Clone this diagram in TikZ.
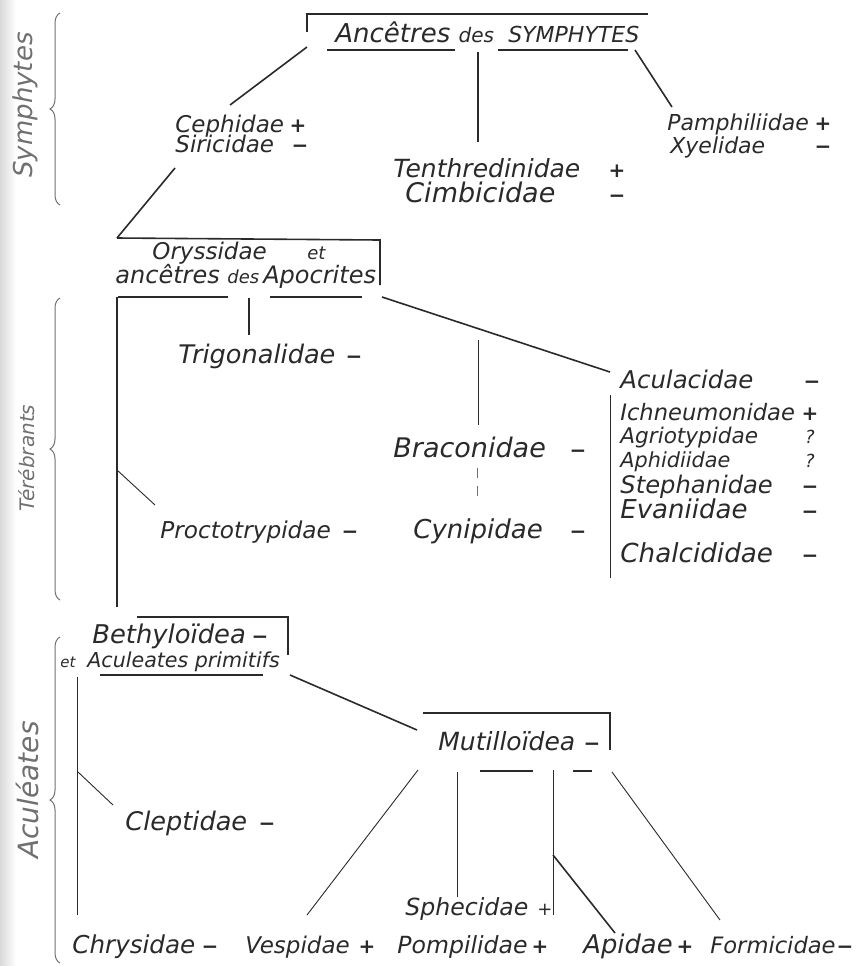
\documentclass[tikz,border=0pt]{standalone}
\usepackage{fontspec}
\setsansfont{DejaVu Sans}
\usetikzlibrary{decorations.pathreplacing}

\definecolor{ink}{HTML}{2A2A2A}
\definecolor{pencil}{HTML}{707070}
\newcommand{\minussign}{\char"2212}

\begin{document}
\begin{tikzpicture}[x=0.5pt,y=-0.5pt,
    fam/.style={font=\sffamily\itshape\fontsize{#1}{#1}\selectfont,anchor=base west,inner sep=0pt,text=ink},
    fam/.default=12,
    sgn/.style={font=\sffamily\bfseries\fontsize{10}{10}\selectfont,anchor=base,inner sep=0pt,text=ink},
    branch/.style={draw=ink,line width=0.8pt},
    twig/.style={draw=ink,line width=0.45pt},
    group/.style={font=\sffamily\itshape\fontsize{#1}{#1}\selectfont,rotate=90,text=pencil,inner sep=0pt},
    bracket/.style={draw=pencil,line width=0.5pt,decorate,decoration={brace,amplitude=5pt}}]

  \useasboundingbox (0,0) rectangle (862,966);
  \fill[left color=black!15,right color=white] (0,0) rectangle (16,966);

  % groups on the left
  \draw[bracket] (60,205) -- (60,13);
  \draw[bracket] (60,600) -- (60,298);
  \draw[bracket] (60,963) -- (60,637);
  \node[group=13] (symph) at (25,105) {Symphytes};
  \node[group=10] (tereb) at (27,458) {Térébrants};
  \node[group=14] (acul) at (28,790) {Aculéates};

  % Symphytes
  \node[fam=13] (anc) at (335,42) {Ancêtres {\fontsize{10}{10}\selectfont des}\hspace{3pt} {\fontsize{11}{11}\selectfont SYMPHYTES}};
  \draw[branch] (307,32) -- (307,14) -- (648,14);
  \draw[branch] (327,50) -- (455,50) (498,50) -- (628,50);

  \node[fam=11.5] (ceph) at (175,132) {Cephidae};
  \node[sgn] (ceph-s) at (298,132) {+};
  \node[fam=11.5] (siri) at (175,152) {Siricidae};
  \node[sgn] (siri-s) at (300,152) {\minussign};
  \node[fam=12.5] (tenth) at (393,177) {Tenthredinidae};
  \node[sgn] (tenth-s) at (617,177) {+};
  \node[fam=13.5] (cimb) at (405,202) {Cimbicidae};
  \node[sgn] (cimb-s) at (617,202) {\minussign};
  \node[fam=11] (pamph) at (667,130) {Pamphiliidae};
  \node[sgn] (pamph-s) at (823,130) {+};
  \node[fam=11] (xyel) at (670,153) {Xyelidae};
  \node[sgn] (xyel-s) at (823,153) {\minussign};

  \coordinate (anc-l) at (307,47);  \coordinate (ceph-t) at (230,105);
  \coordinate (anc-m) at (478,52);  \coordinate (tenth-t) at (478,142);
  \coordinate (anc-r) at (635,50);  \coordinate (pamph-t) at (672,107);
  \coordinate (siri-b) at (175,168); \coordinate (oryss-t) at (117,238);
  \draw[branch] (anc-l) -- (ceph-t);
  \draw[branch] (anc-m) -- (tenth-t);
  \draw[branch] (anc-r) -- (pamph-t);
  \draw[branch] (siri-b) -- (oryss-t);

  % Terebrants
  \node[fam=11.5] (oryss) at (152,259) {Oryssidae};
  \node[fam=9] (oryss-et) at (307,259) {et};
  \node[fam=12] (anca) at (115,283) {ancêtres {\fontsize{9}{9}\selectfont des}\,Apocrites};
  \draw[branch] (oryss-t) -- (380,240) -- (380,285);
  \draw[branch] (118,297) -- (228,297) (270,297) -- (362,297);

  \node[fam=12.8] (trigo) at (178,363) {Trigonalidae};
  \node[sgn] (trigo-s) at (354,363) {\minussign};
  \node[fam=13.5] (braco) at (393,457) {Braconidae};
  \node[sgn] (braco-s) at (578,457) {\minussign};
  \node[fam=13] (cynip) at (413,538) {Cynipidae};
  \node[sgn] (cynip-s) at (578,538) {\minussign};
  \node[fam=11.6] (procto) at (160,538) {Proctotrypidae};
  \node[sgn] (procto-s) at (350,538) {\minussign};
  \node[fam=12.2] (acula) at (620,388) {Aculacidae};
  \node[sgn] (acula-s) at (812,388) {\minussign};

  \foreach \yb/\fname/\sz/\sg in {420/Ichneumonidae/11.3/+,
      443/Agriotypidae/10.8/{\mdseries\itshape\fontsize{9}{9}\selectfont ?},
      467/Aphidiidae/10.4/{\mdseries\itshape\fontsize{9}{9}\selectfont ?},
      493/Stephanidae/12.1/\minussign, 518/Evaniidae/13/\minussign,
      562/Chalcididae/13.1/\minussign} {
    \node[fam=\sz] (\fname) at (620,\yb) {\fname};
    \node[sgn] (\fname-s) at (810,\yb) {\sg};
  }

  \coordinate (oryss-c) at (117,297); \coordinate (bethy-t) at (117,607);
  \coordinate (anca-m) at (249,298); \coordinate (trigo-t) at (249,335);
  \coordinate (anca-r) at (382,297); \coordinate (acula-l) at (610,372);
  \coordinate (braco-t) at (478,340); \coordinate (braco-b) at (478,425);
  \coordinate (cynip-t) at (477,468); \coordinate (braco-u) at (477,503);
  \coordinate (procto-j) at (117,470); \coordinate (procto-t) at (155,505);
  \coordinate (ichn-t) at (610,395); \coordinate (chalc-b) at (610,578);
  \draw[branch] (oryss-c) -- (bethy-t);
  \draw[branch] (anca-m) -- (trigo-t);
  \draw[branch] (anca-r) -- (acula-l);
  \draw[twig] (braco-t) -- (braco-b);
  \draw[twig,draw=pencil,dash pattern=on 5pt off 4pt] (cynip-t) -- (braco-u);
  \draw[twig] (procto-j) -- (procto-t);
  \draw[twig] (ichn-t) -- (chalc-b);

  % Aculeates
  \node[fam=12.9] (bethy) at (92,643) {Bethyloïdea};
  \node[sgn] (bethy-s) at (260,643) {\minussign};
  \node[fam=7.5] (bethy-et) at (60,667) {et};
  \node[fam=10.3] (prim) at (87,667) {Aculeates primitifs};
  \draw[branch] (137,617) -- (288,617) -- (288,655);
  \draw[branch] (100,675) -- (263,675);

  \node[fam=12.5] (mutil) at (438,750) {Mutilloïdea};
  \node[sgn] (mutil-s) at (592,750) {\minussign};
  \draw[branch] (423,713) -- (610,713) -- (610,750);
  \draw[branch] (480,771) -- (533,771) (573,771) -- (592,771);

  \node[fam=12.8] (clept) at (125,830) {Cleptidae};
  \node[sgn] (clept-s) at (267,830) {\minussign};
  \node[fam=12.3] (chrys) at (72,953) {Chrysidae};
  \node[sgn] (chrys-s) at (210,953) {\minussign};
  \node[fam=11.5] (vesp) at (245,953) {Vespidae};
  \node[sgn] (vesp-s) at (367,953) {+};
  \node[fam=11.8] (sphec) at (405,915) {Sphecidae};
  \node[sgn,font=\sffamily\fontsize{9}{9}\selectfont] (sphec-s) at (545,915) {+};
  \node[fam=11.8] (pomp) at (397,953) {Pompilidae};
  \node[sgn] (pomp-s) at (540,953) {+};
  \node[fam=12.9] (apid) at (583,953) {Apidae};
  \node[sgn] (apid-s) at (685,953) {+};
  \node[fam=11.3] (formic) at (710,953) {Formicidae};
  \node[sgn] (formic-s) at (845,953) {\minussign};

  \coordinate (prim-r) at (290,675); \coordinate (mutil-l) at (417,730);
  \coordinate (clept-j) at (78,772); \coordinate (clept-t) at (113,805);
  \coordinate (chrys-t) at (77,677); \coordinate (chrys-b) at (77,915);
  \coordinate (mutil-a) at (418,770); \coordinate (vesp-t) at (307,915);
  \coordinate (mutil-b) at (457,772); \coordinate (sphec-t) at (457,897);
  \coordinate (mutil-c) at (553,770); \coordinate (sphec-r) at (553,915);
  \coordinate (apid-j) at (553,855); \coordinate (apid-t) at (615,933);
  \coordinate (mutil-d) at (612,772); \coordinate (formic-t) at (720,920);
  \draw[branch] (prim-r) -- (mutil-l);
  \draw[twig] (chrys-t) -- (chrys-b);
  \draw[twig] (clept-j) -- (clept-t);
  \draw[twig] (mutil-a) -- (vesp-t);
  \draw[twig] (mutil-b) -- (sphec-t);
  \draw[twig] (mutil-c) -- (sphec-r);
  \draw[branch] (apid-j) -- (apid-t);
  \draw[twig] (mutil-d) -- (formic-t);
\end{tikzpicture}
\end{document}
